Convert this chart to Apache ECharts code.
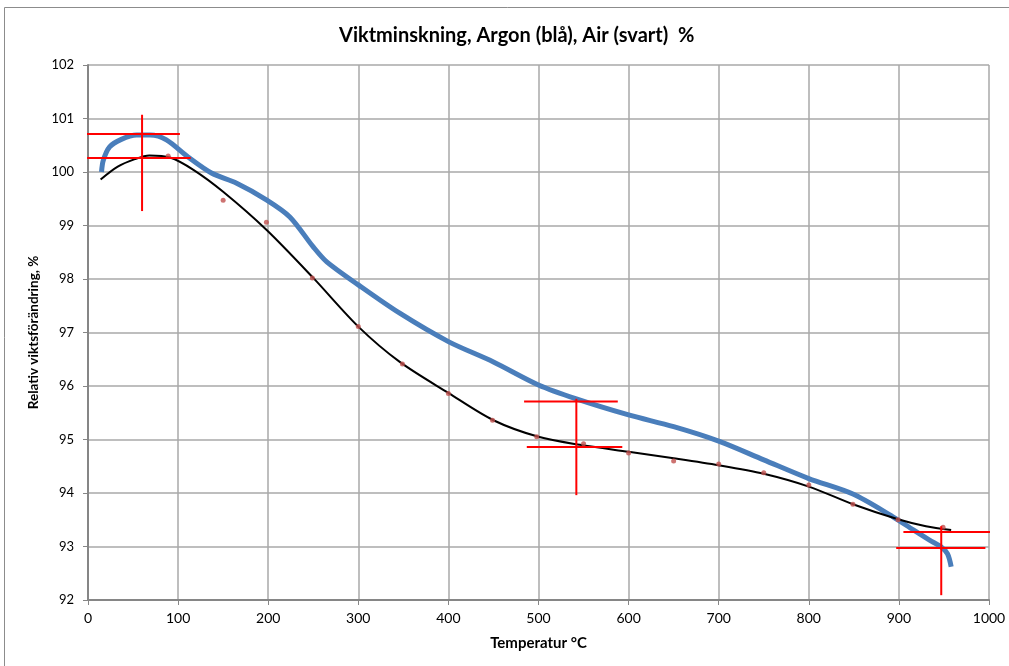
<!DOCTYPE html>
<html>
<head>
<meta charset="utf-8">
<script src="https://cdn.jsdelivr.net/npm/echarts@6/dist/echarts.min.js"></script>
<style>html,body{margin:0;padding:0;background:#fff}#c{width:1009px;height:666px}</style>
</head>
<body>
<div id="c"></div>
<script>
// Argon (blue) curve: temperature °C, relative weight %
const argonT = [15, 17, 24, 37, 54, 69, 87, 111, 137, 165, 198, 224, 250, 265, 300, 346, 400, 450, 500, 542, 600, 650, 700, 750, 800, 849, 893, 916, 934, 947, 954, 958];
const argonV = [100.00, 100.22, 100.47, 100.61, 100.69, 100.69, 100.60, 100.28, 99.98, 99.79, 99.48, 99.16, 98.60, 98.32, 97.89, 97.36, 96.83, 96.45, 96.02, 95.76, 95.46, 95.24, 94.97, 94.62, 94.27, 93.98, 93.56, 93.31, 93.12, 92.99, 92.86, 92.62];
// Air (black) curve
const airT = [14, 33, 52, 68, 91, 117, 150, 198, 250, 300, 346, 400, 450, 500, 546, 600, 650, 700, 750, 800, 849, 899, 930, 958];
const airV = [99.86, 100.10, 100.24, 100.31, 100.27, 100.04, 99.63, 98.92, 98.02, 97.11, 96.45, 95.87, 95.36, 95.05, 94.90, 94.77, 94.65, 94.52, 94.36, 94.12, 93.79, 93.51, 93.38, 93.31];
// Air measured points (red dots)
const dotT = [89, 150, 198, 249, 300, 349, 400, 449, 498, 550, 600, 650, 700, 750, 800, 849, 899, 949];
const dotV = [100.30, 99.47, 99.06, 98.02, 97.11, 96.41, 95.86, 95.36, 95.05, 94.92, 94.75, 94.60, 94.54, 94.38, 94.15, 93.79, 93.50, 93.36];
// Red marker lines: horizontal [tStart, tEnd, value], vertical [t, vStart, vEnd]
const markH = [[-44, 102, 100.71], [-1, 114, 100.26], [484, 588, 95.71], [487, 593, 94.86], [905, 1003, 93.27], [897, 996, 92.97]];
const markV = [[60, 101.07, 99.27], [542, 95.76, 93.96], [947, 93.38, 92.09]];
// Axis ticks
const xTicks = {min: 0, max: 1000, step: 100};
const yTicks = {min: 92, max: 102, step: 1};

const FONT = 'Lato';
const zip = (a, b) => a.map((v, i) => [v, b[i]]);
const redSeg = seg => ({
  type: 'line', data: seg, symbol: 'none', clip: false, silent: true,
  lineStyle: {color: '#ff0000', width: 2}, z: 5, animation: false
});

const series = [
  {type: 'line', name: 'Argon', data: zip(argonT, argonV), smooth: 0.3, symbol: 'none',
   lineStyle: {color: '#4a7ebb', width: 5}, z: 3},
  {type: 'line', name: 'Air', data: zip(airT, airV), smooth: 0.3, symbol: 'none',
   lineStyle: {color: '#000000', width: 2}, z: 4},
  {type: 'scatter', name: 'points', data: zip(dotT, dotV), symbolSize: 5,
   itemStyle: {color: '#c0504d'}, z: 4}
];
markH.forEach(h => series.push(redSeg([[h[0], h[2]], [h[1], h[2]]])));
markV.forEach(v => series.push(redSeg([[v[0], v[1]], [v[0], v[2]]])));

const chart = echarts.init(document.getElementById('c'), null, {renderer: 'canvas'});
chart.setOption({
  animation: false,
  backgroundColor: '#fff',
  title: {
    text: 'Viktminskning, Argon (blå), Air (svart)  %',
    left: 334, top: 21,
    textStyle: {fontFamily: FONT, fontWeight: 'bold', fontSize: 20, color: '#000'}
  },
  graphic: [{type: 'rect', shape: {x: 4.5, y: 7.5, width: 1010, height: 670},
    style: {fill: 'none', stroke: '#8c8c8c', lineWidth: 1}, silent: true}],
  grid: {left: 88, right: 20, top: 65, bottom: 66},
  xAxis: {
    type: 'value', min: xTicks.min, max: xTicks.max, interval: xTicks.step,
    name: 'Temperatur °C', nameLocation: 'middle', nameGap: 36,
    nameTextStyle: {fontFamily: FONT, fontWeight: 'bold', fontSize: 15, color: '#000'},
    axisLine: {lineStyle: {color: '#868686', width: 2}},
    axisTick: {show: true, length: 5, lineStyle: {color: '#868686'}},
    axisLabel: {fontFamily: FONT, fontSize: 14, color: '#000', margin: 11, formatter: v => String(v)},
    splitLine: {show: true, lineStyle: {color: '#a8a8a8', width: 1.5}}
  },
  yAxis: {
    type: 'value', min: yTicks.min, max: yTicks.max, interval: yTicks.step,
    name: 'Relativ viktsförändring, %', nameLocation: 'middle', nameGap: 46,
    nameTextStyle: {fontFamily: FONT, fontWeight: 'bold', fontSize: 13.5, color: '#000'},
    axisLine: {show: true, lineStyle: {color: '#868686', width: 2}},
    axisTick: {show: true, length: 5, lineStyle: {color: '#868686'}},
    axisLabel: {fontFamily: FONT, fontSize: 13, color: '#000', margin: 14},
    splitLine: {show: true, lineStyle: {color: '#a8a8a8', width: 1.5}}
  },
  series: series
});
</script>
</body>
</html>
